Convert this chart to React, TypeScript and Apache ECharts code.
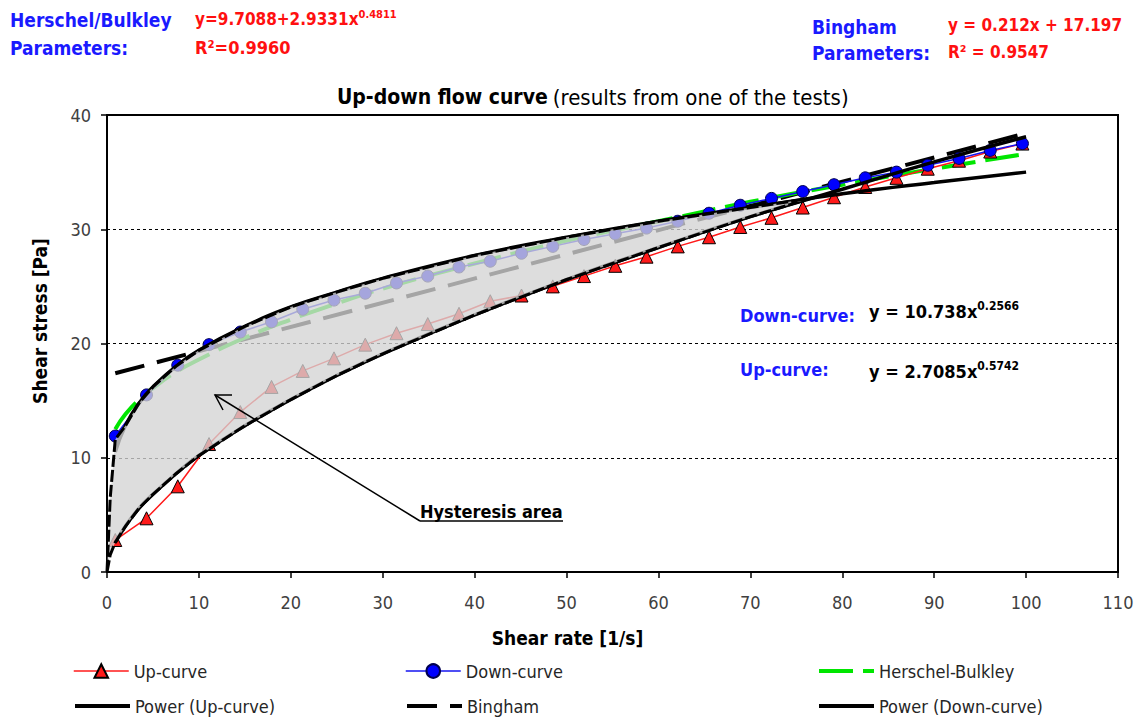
import React, { useEffect, useRef } from 'react';
import * as echarts from 'echarts';

const FONT = "'Liberation Sans Narrow', 'DejaVu Sans Condensed', Lato, sans-serif";

// Measured data (shear rate [1/s], shear stress [Pa])
const rateX = [0.9, 4.3, 7.7, 11.1, 14.5, 17.9, 21.3, 24.7, 28.1, 31.5, 34.9, 38.3, 41.7, 45.1, 48.5, 51.9, 55.3, 58.7, 62.1, 65.5, 68.9, 72.3, 75.7, 79.1, 82.5, 85.9, 89.3, 92.7, 96.1, 99.6];
const upCurveY = [2.8, 4.7, 7.5, 11.2, 14.0, 16.2, 17.6, 18.7, 19.9, 20.9, 21.7, 22.6, 23.7, 24.2, 25.0, 25.9, 26.8, 27.6, 28.5, 29.3, 30.2, 31.0, 31.9, 32.8, 33.7, 34.5, 35.3, 36.0, 36.8, 37.5];
const downCurveY = [11.9, 15.5, 18.1, 19.9, 21.0, 21.9, 23.0, 23.8, 24.4, 25.3, 25.9, 26.7, 27.2, 27.9, 28.5, 29.1, 29.6, 30.1, 30.7, 31.4, 32.1, 32.7, 33.3, 33.9, 34.5, 35.0, 35.6, 36.2, 36.9, 37.5];

// Trend lines
const fitX = [0.9, 2, 3.5, 5, 7.5, 10, 15, 20, 25, 30, 40, 50, 60, 70, 80, 90, 100];
const powerDownY = [10.5, 12.8, 14.8, 16.2, 18.0, 19.4, 21.5, 23.2, 24.5, 25.7, 27.7, 29.3, 30.7, 31.9, 33.1, 34.1, 35.0];
const powerUpY = [2.6, 4.0, 5.6, 6.8, 8.6, 10.2, 12.8, 15.1, 17.2, 19.1, 22.5, 25.6, 28.4, 31.1, 33.5, 35.9, 38.1];
const hbY = [12.5, 13.8, 15.1, 16.1, 17.5, 18.6, 20.5, 22.1, 23.5, 24.8, 27.0, 29.0, 30.7, 32.4, 33.9, 35.3, 36.6];
const binghamX = [0.9, 100];
const binghamY = [17.4, 38.4];

// Hysteresis area outline
const hystX = [0, 0.35, 0.9, 2, 3.5, 5, 7.5, 10, 15, 20, 25, 30, 40, 50, 60, 70, 76.5, 70, 60, 50, 40, 30, 25, 20, 15, 10, 7.5, 5, 3.5, 2, 0.9, 0.35];
const hystY = [0, 1.5, 2.6, 4.0, 5.6, 6.8, 8.6, 10.2, 12.8, 15.1, 17.2, 19.1, 22.5, 25.6, 28.4, 31.1, 32.7, 31.9, 30.7, 29.3, 27.7, 25.7, 24.5, 23.2, 21.5, 19.4, 18.0, 16.2, 14.8, 12.8, 11.6, 6.5];

const xTicks = { min: 0, max: 110, interval: 10 };
const yTicks = { min: 0, max: 40, interval: 10 };

const zip = (xs: number[], ys: number[]) => xs.map((x, i) => [x, ys[i]]);

const BLUE = '#1414f0';
const RED = '#ff1a1a';
const GREEN = '#00e600';

export default function App() {
  const ref = useRef<HTMLDivElement>(null);
  useEffect(() => {
    if (!ref.current) return;
    const chart = echarts.init(ref.current, undefined, { renderer: 'svg' });
    const legendCommon = {
      itemWidth: 55,
      itemHeight: 17,
      padding: 0,
      selectedMode: false,
      textStyle: { fontSize: 18, color: '#262626', fontFamily: FONT },
    };
    const noSym = { color: 'rgba(0,0,0,0)', borderWidth: 0 };
    const txt = (x: number, y: number, text: string, fill: string, size = 19) => ({
      type: 'text',
      x,
      y,
      style: { text, fill, font: `bold ${size}px ${FONT}`, verticalAlign: 'middle' },
    });
    const supText = (x: number, y: number, main: string, sup: string, fill: string, size = 19) => ({
      type: 'text',
      x,
      y,
      style: {
        text: `{a|${main}}{s|${sup}}`,
        verticalAlign: 'middle',
        rich: {
          a: { fill, fontSize: size, fontWeight: 'bold', fontFamily: FONT, lineHeight: size + 4 },
          s: { fill, fontSize: Math.round(size * 0.65), fontWeight: 'bold', fontFamily: FONT, verticalAlign: 'top', lineHeight: size + 4 },
        },
      },
    });
    const option: any = {
      animation: false,
      backgroundColor: '#fff',
      title: {
        text: '{b|Up-down flow curve} {n|(results from one of the tests)}',
        left: 332,
        top: 81,
        textStyle: {
          rich: {
            b: { fontWeight: 'bold', fontSize: 21, color: '#000', fontFamily: FONT },
            n: { fontWeight: 'normal', fontSize: 22, color: '#000', fontFamily: FONT },
          },
        },
      },
      grid: {
        left: 107,
        right: 20,
        top: 115,
        bottom: 146,
        show: true,
        borderColor: '#000',
        borderWidth: 2,
        backgroundColor: 'transparent',
      },
      legend: [
        { ...legendCommon, data: ['Up-curve'], left: 73, top: 662, lineStyle: { width: 1.5 } },
        { ...legendCommon, data: ['Down-curve'], left: 405, top: 662, lineStyle: { width: 1.5 } },
        { ...legendCommon, data: [{ name: 'Herschel-Bulkley', itemStyle: noSym }], left: 817, top: 662, lineStyle: { width: 4 } },
        { ...legendCommon, data: [{ name: 'Power (Up-curve)', itemStyle: noSym }], left: 73, top: 697, lineStyle: { width: 4 } },
        { ...legendCommon, data: [{ name: 'Bingham', itemStyle: noSym }], left: 405, top: 697, lineStyle: { width: 4 } },
        { ...legendCommon, data: [{ name: 'Power (Down-curve)', itemStyle: noSym }], left: 817, top: 697, lineStyle: { width: 4 } },
      ],
      xAxis: {
        type: 'value',
        ...xTicks,
        name: 'Shear rate [1/s]',
        nameLocation: 'middle',
        nameGap: 56,
        nameTextStyle: { fontWeight: 'bold', fontSize: 19, color: '#000', fontFamily: FONT, padding: [0, 90, 0, 0] },
        axisLine: { lineStyle: { color: '#000', width: 2 } },
        axisTick: { show: true, length: 6, lineStyle: { color: '#000', width: 1.5 } },
        axisLabel: { fontSize: 18, color: '#404040', fontFamily: FONT, margin: 21 },
        splitLine: { show: false },
      },
      yAxis: {
        type: 'value',
        ...yTicks,
        name: 'Shear stress [Pa]',
        nameLocation: 'middle',
        nameGap: 58,
        nameTextStyle: { fontWeight: 'bold', fontSize: 19, color: '#000', fontFamily: FONT, padding: [0, 0, 0, 45] },
        axisLine: { lineStyle: { color: '#000', width: 2 } },
        axisTick: { show: true, length: 6, lineStyle: { color: '#000', width: 1.5 } },
        axisLabel: { fontSize: 18, color: '#404040', fontFamily: FONT, margin: 16 },
        splitLine: { show: true, lineStyle: { color: '#000', width: 1, type: [3, 3] } },
      },
      series: [
        {
          name: 'Bingham',
          type: 'line',
          data: zip(binghamX, binghamY),
          symbol: 'none',
          z: 2,
          lineStyle: { color: '#000', width: 4, type: [30, 13] },
          itemStyle: { color: '#000' },
        },
        {
          name: 'Herschel-Bulkley',
          type: 'line',
          data: zip(fitX, hbY),
          smooth: true,
          symbol: 'none',
          z: 2,
          lineStyle: { color: GREEN, width: 4, type: [34, 10] },
          itemStyle: { color: GREEN },
        },
        {
          name: 'Up-curve',
          type: 'line',
          data: zip(rateX, upCurveY),
          symbol: 'triangle',
          symbolSize: 13,
          z: 3,
          lineStyle: { color: RED, width: 1.5 },
          itemStyle: { color: RED, borderColor: '#000', borderWidth: 1 },
        },
        {
          name: 'Down-curve',
          type: 'line',
          data: zip(rateX, downCurveY),
          symbol: 'circle',
          symbolSize: 12,
          z: 3,
          lineStyle: { color: BLUE, width: 1.5 },
          itemStyle: { color: '#0000ff', borderColor: '#000050', borderWidth: 1 },
        },
        {
          name: 'Power (Up-curve)',
          type: 'line',
          data: zip(fitX, powerUpY),
          smooth: true,
          symbol: 'none',
          z: 5,
          lineStyle: { color: '#000', width: 3.5 },
          itemStyle: { color: '#000' },
        },
        {
          name: 'Power (Down-curve)',
          type: 'line',
          data: zip(fitX, powerDownY),
          smooth: true,
          symbol: 'none',
          z: 5,
          lineStyle: { color: '#000', width: 3.5 },
          itemStyle: { color: '#000' },
        },
        {
          name: 'Hysteresis',
          type: 'custom',
          z: 6,
          data: zip(hystX, hystY),
          encode: { x: 0, y: 1 },
          renderItem: (params: any, api: any) => {
            if (params.dataIndex !== 0) return null;
            const pts = hystX.map((x, i) => api.coord([x, hystY[i]]));
            return {
              type: 'polygon',
              shape: { points: pts },
              style: {
                fill: 'rgba(212,212,212,0.78)',
                stroke: '#000',
                lineWidth: 3,
                lineDash: [12, 3],
              },
            };
          },
        },
      ],
      graphic: [
        txt(10, 20, 'Herschel/Bulkley', '#1a1aff'),
        txt(10, 48, 'Parameters:', '#1a1aff'),
        supText(195, 19, 'y=9.7088+2.9331x', '0.4811', '#ff1010', 17),
        txt(195, 47, 'R²=0.9960', '#ff1010', 18),
        txt(812, 27, 'Bingham', '#1a1aff'),
        txt(812, 53, 'Parameters:', '#1a1aff'),
        txt(948, 25, 'y = 0.212x + 17.197', '#ff1010', 17),
        txt(948, 52, 'R² = 0.9547', '#ff1010', 17),
        txt(740, 315, 'Down-curve:', '#1a1aff', 18),
        supText(869, 311, 'y = 10.738x', '0.2566', '#000', 18),
        txt(740, 369, 'Up-curve:', '#1a1aff', 18),
        supText(869, 371, 'y = 2.7085x', '0.5742', '#000', 18),
        txt(420, 511, 'Hysteresis area', '#000', 18),
        { type: 'line', shape: { x1: 420, y1: 521, x2: 563, y2: 521 }, style: { stroke: '#000', lineWidth: 1.5 } },
        { type: 'line', shape: { x1: 420, y1: 521, x2: 215, y2: 395 }, style: { stroke: '#000', lineWidth: 1.5 }, z: 100 },
        { type: 'polyline', shape: { points: [[232, 395], [215, 395], [223, 410]] }, style: { stroke: '#000', lineWidth: 1.5, fill: 'none' }, z: 100 },
      ],
    };
    chart.setOption(option);
    return () => chart.dispose();
  }, []);
  return <div ref={ref} style={{ position: 'absolute', left: 0, top: 0, width: 1138, height: 718 }} />;
}
